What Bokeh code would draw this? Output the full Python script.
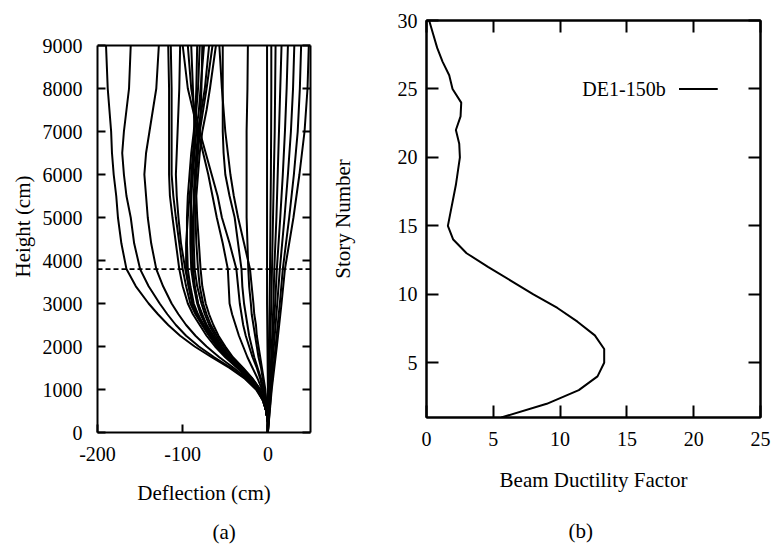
from bokeh.plotting import figure
from bokeh.models import LinearAxis, FixedTicker, Range1d, Span, Label, Title
from bokeh.layouts import row
from bokeh.embed import file_html
from bokeh.resources import INLINE

FONT = "Times"

# ---------------- data: panel (a) ----------------
heights = [0, 250, 500, 750, 1000, 1250, 1500, 1750, 2000, 2250, 2500, 2750,
           3000, 3400, 3800, 4400, 5000, 5500, 6000, 6500, 7000, 7500, 8000, 9000]

curve_a = [0, 0, -2, -6, -14, -27, -45, -66, -86, -103, -117, -129, -140, -155, -166, -172, -176, -178, -181, -183, -184, -186, -188, -190]
curve_b = [0, 0, -2, -6, -13, -26, -43, -63, -81, -96, -108, -118, -127, -140, -150, -157, -161, -166, -169, -171, -169, -166, -163, -161]
curve_c = [0, 0, -2, -6, -12, -24, -40, -57, -72, -85, -96, -105, -113, -123, -131, -137, -141, -143, -145, -143, -139, -135, -131, -128]
curve_m1 = [0, 0, -2, -5, -11, -22, -36, -50, -62, -72, -80, -88, -94, -100, -104, -108, -112, -115, -116, -116, -116, -116, -116, -117]
curve_m2 = [0, 0, -2, -5, -10, -21, -34, -48, -59, -69, -77, -85, -91, -96, -100, -104, -108, -111, -113, -113, -113, -113, -113, -114]
curve_m3 = [0, 0, -2, -5, -10, -20, -33, -46, -57, -67, -75, -83, -88, -93, -97, -102, -105, -107, -108, -107, -106, -105, -104, -103]
curve_m4 = [0, 0, -2, -5, -10, -20, -32, -45, -55, -64, -72, -78, -82, -86, -88, -89, -88, -86, -84, -82, -80, -79, -78, -77]
curve_m6 = [0, 0, -2, -5, -11, -22, -35, -49, -60, -69, -77, -84, -89, -93, -96, -96, -94, -92, -89, -87, -86, -87, -88, -90]
curve_m7 = [0, 0, -2, -5, -10, -21, -34, -48, -59, -68, -76, -82, -87, -91, -94, -95, -95, -94, -92, -90, -87, -85, -84, -83]
curve_m8 = [0, 0, -2, -5, -10, -20, -33, -46, -56, -65, -72, -77, -82, -86, -88, -89, -90, -90, -90, -88, -86, -84, -82, -80]
curve_m9 = [0, 0, -2, -5, -10, -20, -33, -46, -57, -66, -73, -79, -83, -87, -90, -91, -91, -90, -88, -86, -84, -81, -79, -75]
curve_m10 = [0, 0, -2, -5, -9, -19, -31, -44, -54, -62, -69, -74, -78, -83, -86, -87, -87, -87, -86, -84, -82, -78, -74, -69]
curve_m11 = [0, 0, -2, -5, -9, -18, -30, -42, -52, -60, -67, -72, -76, -80, -82, -84, -85, -86, -85, -83, -80, -76, -72, -65]
curve_m12 = [0, 0, -2, -5, -9, -18, -29, -41, -50, -58, -64, -69, -73, -77, -79, -81, -83, -84, -82, -80, -77, -72, -68, -61]
curve_x2 = [0, 0, -1, -3, -6, -9, -13, -18, -22, -26, -29, -31, -33, -35, -37, -45, -54, -59, -66, -73, -80, -86, -90, -94]
curve_r1 = [0, 0, -1, -2, -4, -6, -8, -11, -13, -15, -17, -19, -20, -22, -23, -24, -25, -25, -25, -25, -25, -24.5, -24, -23.5]
curve_r2 = [0, 0, -1, -3, -7, -12, -18, -24, -29, -34, -38, -42, -45, -46, -47, -53, -60, -65, -70, -76, -82, -88, -94, -100]
curve_r3 = [0, 0, -1, -2, -3, -5, -7, -9, -11, -13, -14, -16, -17, -19, -21, -28, -35, -40, -44, -47, -50, -52, -54, -57]
curve_r4 = [0, 0, -1, -3, -5, -8, -12, -16, -19, -22, -24, -26, -28, -30, -31, -35, -39, -45, -50, -52, -53, -53, -53, -53]

left_curves = [curve_a, curve_b, curve_c, curve_m1, curve_m2, curve_m3, curve_m4,
               curve_m6, curve_m7, curve_m8, curve_m9, curve_m10, curve_m11,
               curve_m12, curve_x2, curve_r1, curve_r2, curve_r3, curve_r4]

heights_right = [0, 1000, 2000, 3000, 3800, 5000, 6000, 7000, 8000, 9000]
curve_p0 = [0, 0, -0.5, -1, -1, -1, -1, -1, -1, -1]
curve_p1 = [0, 0.5, 1.2, 2, 2.5, 3, 3.5, 3.8, 4, 4]
curve_p2 = [0, 1, 2.5, 4, 4.8, 6, 7, 8, 8.5, 9]
curve_p3 = [0, 2, 4.5, 6.5, 7.5, 10, 11.5, 13, 14.5, 16]
curve_p4 = [0, 2.5, 5.5, 8.5, 10.5, 14.5, 17.5, 20, 22, 23.5]
curve_p5 = [0, 3, 7, 11, 14, 19.5, 23.5, 27, 29.5, 31]
curve_p6 = [0, 4, 9, 14, 17.5, 25, 30.5, 35, 37.5, 39]
curve_p7 = [0, 4.5, 10.5, 16, 20, 30, 37, 43, 46.5, 48]

right_curves = [curve_p0, curve_p1, curve_p2, curve_p3, curve_p4, curve_p5,
                curve_p6, curve_p7]

reference_height = 3800
deflection_min, deflection_max = -200, 50
height_min, height_max = 0, 9000
deflection_ticks = [-200, -100, 0]
deflection_labels = {-200: "-200", -100: "-100", 0: "0"}
height_ticks = [0, 1000, 2000, 3000, 4000, 5000, 6000, 7000, 8000, 9000]

# ---------------- data: panel (b) ----------------
story_number = list(range(1, 31))
ductility = [5.6, 9.0, 11.4, 12.8, 13.3, 13.3, 12.6, 11.3, 9.8, 8.0,
             6.3, 4.6, 3.0, 2.0, 1.6, 1.8, 2.0, 2.2, 2.35, 2.5,
             2.45, 2.2, 2.55, 2.6, 1.95, 1.7, 1.2, 0.8, 0.5, 0.2]
series_name = "DE1-150b"
ductility_ticks = [0, 5, 10, 15, 20, 25]
story_ticks = [5, 10, 15, 20, 25, 30]


def style_axis(ax, tick_in, standoff, label_standoff):
    ax.axis_line_width = 2
    ax.axis_line_color = "black"
    ax.major_tick_in = tick_in
    ax.major_tick_out = 0
    ax.major_tick_line_width = 2
    ax.minor_tick_line_color = None
    ax.major_label_text_font = FONT
    ax.major_label_text_font_size = "20px"
    ax.major_label_text_color = "black"
    ax.major_label_standoff = standoff
    ax.axis_label_text_font = FONT
    ax.axis_label_text_font_size = "21px"
    ax.axis_label_text_font_style = "normal"
    ax.axis_label_text_color = "black"
    ax.axis_label_standoff = label_standoff


def mirror_axis(ticks, tick_in, bounds="auto"):
    ax = LinearAxis(ticker=FixedTicker(ticks=ticks), bounds=bounds)
    ax.axis_line_width = 2
    ax.major_tick_in = tick_in
    ax.major_tick_out = 0
    ax.major_tick_line_width = 2
    ax.minor_tick_line_color = None
    ax.major_label_text_font_size = "0px"
    ax.major_label_text_color = None
    ax.major_label_standoff = 0
    return ax


# ---------------- panel (a) ----------------
# the row aligns frame tops, so the frame of (a) starts at the same top as (b)
# and its data box (0..9000) is bounded by the axes and a top rule
FRAME_A_DATA_H = 387
FRAME_A_TOTAL_H = 412
y_top = height_max * FRAME_A_TOTAL_H / FRAME_A_DATA_H

p1 = figure(output_backend="svg", toolbar_location=None,
            frame_width=213, frame_height=FRAME_A_TOTAL_H,
            min_border_left=97, min_border_right=15,
            min_border_top=20, min_border_bottom=114,
            x_range=Range1d(deflection_min, deflection_max),
            y_range=Range1d(height_min, y_top),
            background_fill_color="white", border_fill_color="white",
            outline_line_color=None)
p1.grid.visible = False
p1.xaxis.ticker = FixedTicker(ticks=deflection_ticks)
p1.xaxis.major_label_overrides = deflection_labels
p1.yaxis.ticker = FixedTicker(ticks=height_ticks)
p1.yaxis.bounds = (height_min, height_max)
p1.xaxis.axis_label = "Deflection (cm)"
style_axis(p1.xaxis[0], 8, 14, 17)
style_axis(p1.yaxis[0], 8, 15, 16)
p1.add_layout(mirror_axis(height_ticks, 8, (height_min, height_max)), "right")
p1.add_layout(Span(location=height_max, dimension="width",
                   line_color="black", line_width=2))
p1.add_layout(Title(text="Height (cm)", align="center", offset=-14, standoff=10,
                    text_font=FONT, text_font_size="21px",
                    text_font_style="normal", text_color="black"), "left")

for c in left_curves:
    p1.line(c, heights, line_color="black", line_width=2)
for c in right_curves:
    p1.line(c, heights_right, line_color="black", line_width=2)

p1.add_layout(Span(location=reference_height, dimension="width",
                   line_color="black", line_width=1.8, line_dash="5 3"))
p1.add_layout(Title(text="(a)", align="left", offset=115, standoff=20,
                    text_font=FONT, text_font_size="21px",
                    text_font_style="normal", text_color="black"), "below")

# ---------------- panel (b) ----------------
p2 = figure(output_backend="svg", toolbar_location=None,
            frame_width=334, frame_height=397,
            min_border_left=101, min_border_right=11,
            min_border_top=20, min_border_bottom=129,
            x_range=Range1d(0, 25), y_range=Range1d(1, 30),
            background_fill_color="white", border_fill_color="white",
            outline_line_color="black", outline_line_width=2)
p2.grid.visible = False
p2.xaxis.ticker = FixedTicker(ticks=ductility_ticks)
p2.yaxis.ticker = FixedTicker(ticks=story_ticks)
p2.xaxis.axis_label = "Beam Ductility Factor"
p2.yaxis.axis_label = "Story Number"
style_axis(p2.xaxis[0], 12, 14, 19)
style_axis(p2.yaxis[0], 12, 9, 40)
p2.add_layout(mirror_axis(story_ticks, 12), "right")
p2.add_layout(mirror_axis(ductility_ticks, 12), "above")

p2.line(ductility, story_number, line_color="black", line_width=2)

# legend: label followed by line sample
p2.add_layout(Label(x=17.9, y=25, text=series_name, text_align="right",
                    text_baseline="middle", text_font=FONT,
                    text_font_size="20px", text_color="black"))
p2.segment(x0=[18.9], y0=[25], x1=[21.8], y1=[25],
           line_color="black", line_width=2)
p2.add_layout(Title(text="(b)", align="left", offset=142, standoff=44,
                    text_font=FONT, text_font_size="21px",
                    text_font_style="normal", text_color="black"), "below")

layout = row(p1, p2)
open("out.html", "w").write(file_html(layout, INLINE))
